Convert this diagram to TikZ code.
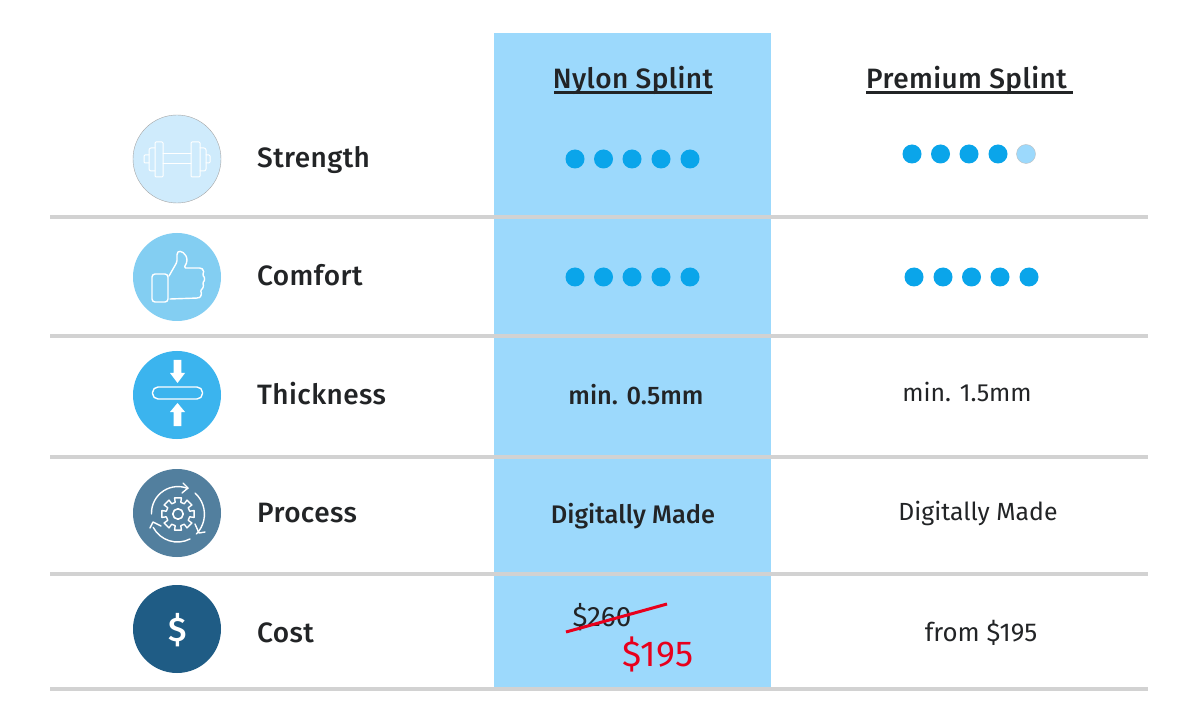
\documentclass[tikz,border=0pt]{standalone}
\usepackage{fontspec}
\setmainfont{Fira Sans}
\newfontfamily\medfont[LetterSpace=1.5]{Fira Sans Medium}
\newfontfamily\semifont{Fira Sans Medium}
\usepackage{xcolor}
\definecolor{colblue}{HTML}{9CD9FC}
\definecolor{rulegrey}{HTML}{D2D2D2}
\definecolor{dotblue}{HTML}{0AA5EA}
\definecolor{dotpale}{HTML}{9CD9FC}
\definecolor{inkdark}{HTML}{222426}
\definecolor{strike}{HTML}{E8001C}
\definecolor{iconA}{HTML}{CFEBFC}
\definecolor{iconB}{HTML}{83CEF2}
\definecolor{iconC}{HTML}{3BB4EE}
\definecolor{iconD}{HTML}{527F9E}
\definecolor{iconE}{HTML}{1F5C85}
\tikzset{
  rowrule/.style={draw=rulegrey,line width=3.5pt},
  iconbg/.style={circle,minimum size=88pt,inner sep=0pt},
  rowlabel/.style={anchor=base west,inner sep=0pt,text=inkdark,font=\medfont\fontsize{28}{32}\selectfont},
  head/.style={anchor=base,inner sep=0pt,text=inkdark,font=\medfont\fontsize{28}{32}\selectfont},
  boldcell/.style={anchor=base,inner sep=0pt,text=inkdark,font=\semifont\fontsize{25.4}{30}\selectfont},
  cell/.style={anchor=base,inner sep=0pt,text=inkdark,font=\fontsize{24.8}{30}\selectfont},
  dot/.style={circle,fill=dotblue,minimum size=19pt,inner sep=0pt},
  paledot/.style={circle,fill=dotpale,draw=black!25,line width=.4pt,minimum size=19pt,inner sep=0pt},
  iconline/.style={draw=white,line width=1.4pt,line join=round,line cap=round},
  iconarrow/.style={draw=white,line width=1.4pt,line cap=round,line join=round},
  headrule/.style={draw=inkdark,line width=2.2pt}
}
\begin{document}
\begin{tikzpicture}[x=1pt,y=-1pt]
\useasboundingbox (0,0) rectangle (1200,727);
\fill[white] (0,0) rectangle (1200,727);
% highlighted column
\fill[colblue] (494,33) rectangle (771,688);
% rules
\foreach \y in {217,336,457,574,689}{\draw[rowrule] (50,\y) -- (1148,\y);}
% icon discs
\node[iconbg,fill=iconA,draw=black!35,line width=.4pt] (i1) at (177,159) {};
\node[iconbg,fill=iconB] (i2) at (177,277) {};
\node[iconbg,fill=iconC] (i3) at (177,395) {};
\node[iconbg,fill=iconD] (i4) at (177,513) {};
\node[iconbg,fill=iconE] (i5) at (177,629) {};
% dumbbell
\begin{scope}[shift={(176,159)},iconline,line width=1pt]
\draw (-13,-5) -- (15,-5) (-13,5) -- (15,5);
\draw[rounded corners=1pt] (-21,-17) rectangle (-13,18);
\draw[rounded corners=1pt] (15,-17) rectangle (24,18);
\draw[rounded corners=2pt] (-21,-11) -- (-27,-11) -- (-27,12) -- (-21,12);
\draw[rounded corners=2pt] (24,-11) -- (30,-11) -- (30,12) -- (24,12);
\draw[rounded corners=1pt] (-27,-4) -- (-32,-4) -- (-32,4) -- (-27,4);
\draw[rounded corners=1pt] (30,-4) -- (34,-4) -- (34,4) -- (30,4);
\end{scope}
% thumbs up
\begin{scope}[shift={(177,277)},iconline]
\draw[rounded corners=3pt] (-25,-3) -- (-9,-3) -- (-9,25) -- (-25,25) -- cycle;
\draw[rounded corners=1.5pt] (-8,-1) -- (0,-15) -- (0,-24) .. controls (3,-27) and (10,-24) .. (10,-15) -- (7,-9) -- (24,-9) .. controls (27,-7) and (27,-4) .. (25,-2) .. controls (28,0) and (28,4) .. (25,6) .. controls (27,8) and (26,12) .. (23,13) .. controls (25,16) and (24,20) .. (21,21) -- (-7,22);
\end{scope}
% thickness
\begin{scope}[shift={(177.5,395)}]
\fill[white] (-3.8,-35) -- (3.8,-35) -- (3.8,-22) -- (7.5,-22) -- (0,-12) -- (-7.5,-22) -- (-3.8,-22) -- cycle;
\fill[white] (-3.8,31) -- (3.8,31) -- (3.8,17) -- (7.5,17) -- (0,8) -- (-7.5,17) -- (-3.8,17) -- cycle;
\draw[white,line width=1.4pt,rounded corners=5.5pt] (-25,-8) rectangle (25,4);
\end{scope}
% process
\begin{scope}[shift={(177,513)}]
\draw[iconarrow,line width=1.6pt] (1,1) circle (5.2);
\draw[iconarrow] (1,1) ++(-12:16.5)
  \foreach \a in {0,45,...,315}{ -- ([shift={(1,1)}]\a-12:16.5) -- ([shift={(1,1)}]\a+12:16.5) -- ([shift={(1,1)}]\a+22.5-9:12) -- ([shift={(1,1)}]\a+22.5+9:12)} -- cycle;
\draw[iconarrow] (-25.5,1) arc[start angle=178,end angle=292,radius=26.5];
\draw[iconarrow] (6,-30) -- (11,-25) -- (5,-20);
\draw[iconarrow] (18,-20) arc[start angle=-48,end angle=44,radius=28.5];
\draw[iconarrow] (18,11) -- (22,20) -- (28,19);
\draw[iconarrow] (13,26) arc[start angle=63,end angle=152,radius=27.5];
\draw[iconarrow] (-27,15) -- (-24,9) -- (-16,13);
\end{scope}
\node[anchor=base,text=white,inner sep=0pt,font=\semifont\fontsize{34}{38}\selectfont] (dollar) at (178,641) {\$};
% row labels
\node[rowlabel] (l1) at (257,168) {Strength};
\node[rowlabel] (l2) at (257,286) {Comfort};
\node[rowlabel] (l3) at (257,404) {Thickness};
\node[rowlabel] (l4) at (257,522) {Process};
\node[rowlabel] (l5) at (257,642) {Cost};
% headers
\node[head] (h1) at (633,89) {Nylon Splint};
\node[head] (h2) at (966.5,89) {Premium Splint};
\coordinate (h1a) at (554,92.5); \coordinate (h1b) at (712,92.5);
\coordinate (h2a) at (866,92.5); \coordinate (h2b) at (1073,92.5);
\draw[headrule] (h1a) -- (h1b);
\draw[headrule] (h2a) -- (h2b);
% dots
\foreach \x in {575,603.5,632,661,690}{\node[dot] at (\x,159) {}; \node[dot] at (\x,277) {};}
\foreach \x in {912,940.5,969,998}{\node[dot] at (\x,154) {};}
\node[paledot] at (1026,154) {};
\foreach \x in {914,943,971.5,1000,1029}{\node[dot] at (\x,277) {};}
% cells
\node[boldcell] (c1) at (636,405) {min. 0.5mm};
\node[cell] (c2) at (967,402) {min. 1.5mm};
\node[boldcell] (c3) at (633,523) {Digitally Made};
\node[cell] (c4) at (978,520) {Digitally Made};
\node[cell,font=\fontsize{25.8}{30}\selectfont] (c5) at (981,641) {from \$195};
\node[cell,font=\fontsize{28}{32}\selectfont] (c6) at (602,626) {\$260};
\node[cell,text=strike,font=\fontsize{36}{40}\selectfont] (c7) at (658,666) {\$195};
\coordinate (s1) at (566,632); \coordinate (s2) at (667,604);
\draw[strike,line width=3pt] (s1) -- (s2);
\end{tikzpicture}
\end{document}
